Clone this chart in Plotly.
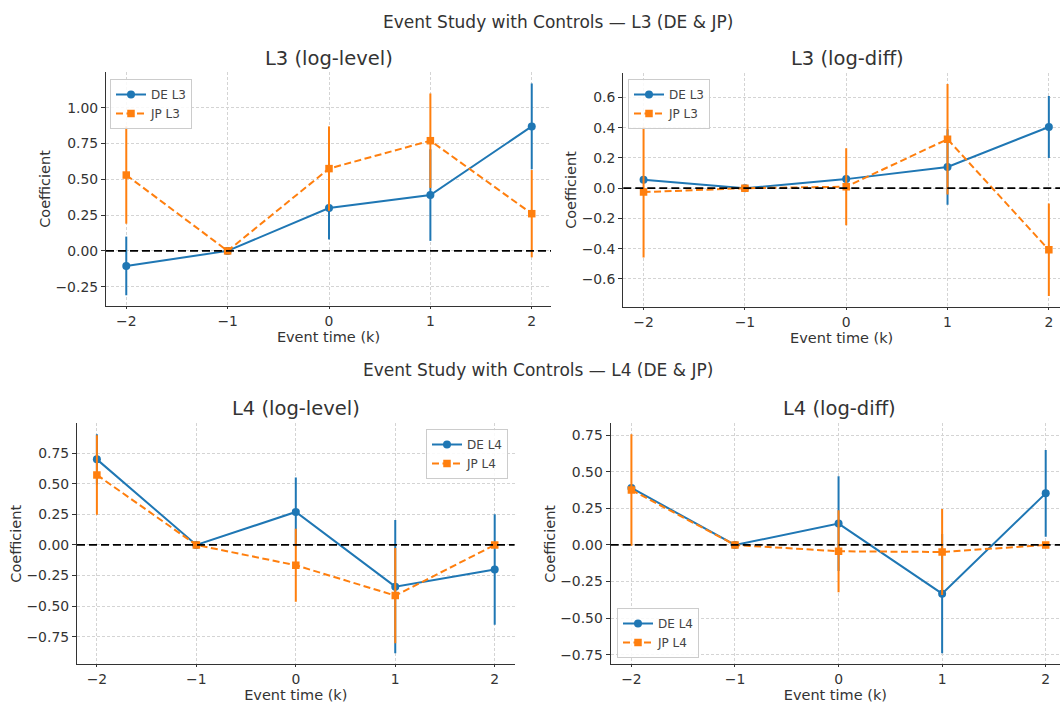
import plotly.graph_objects as go

event_time = [-2, -1, 0, 1, 2]
tick_vals_x = [-2, -1, 0, 1, 2]

# L3 log-level
de_l3_level = [-0.105, 0.0, 0.30, 0.39, 0.87]
de_l3_level_err = [0.205, 0.0, 0.22, 0.32, 0.30]
jp_l3_level = [0.53, 0.0, 0.575, 0.77, 0.26]
jp_l3_level_err = [0.34, 0.0, 0.295, 0.33, 0.305]

# L3 log-diff
de_l3_diff = [0.055, 0.0, 0.06, 0.14, 0.405]
de_l3_diff_err = [0.0, 0.0, 0.0, 0.25, 0.205]
jp_l3_diff = [-0.026, 0.0, 0.01, 0.324, -0.408]
jp_l3_diff_err = [0.433, 0.0, 0.255, 0.366, 0.306]

# L4 log-level
de_l4_level = [0.70, 0.0, 0.27, -0.341, -0.20]
de_l4_level_err = [0.205, 0.0, 0.281, 0.545, 0.452]
jp_l4_level = [0.573, 0.0, -0.166, -0.414, 0.0]
jp_l4_level_err = [0.325, 0.0, 0.298, 0.39, 0.0]

# L4 log-diff
de_l4_diff = [0.39, 0.0, 0.146, -0.333, 0.353]
de_l4_diff_err = [0.0, 0.0, 0.324, 0.408, 0.297]
jp_l4_diff = [0.376, 0.0, -0.043, -0.048, 0.0]
jp_l4_diff_err = [0.381, 0.0, 0.281, 0.294, 0.0]

BLUE = "#1f77b4"
ORANGE = "#ff7f0e"
TXT = "#333333"
FONT = "DejaVu Sans"

panels = [
    dict(title="L3 (log-level)", de=de_l3_level, de_e=de_l3_level_err, jp=jp_l3_level, jp_e=jp_l3_level_err,
         de_name="DE L3", jp_name="JP L3",
         xdom=[106/1060, 551/1060], ydom=[1-306/704, 1-72/704], xr=[-2.2, 2.19], yr=[-0.385, 1.25],
         ytv=[-0.25, 0, 0.25, 0.5, 0.75, 1.0], yfmt=".2f",
         leg=dict(x=110/1060, y=1-79/704, xanchor="left", yanchor="top"), tx=328.5, ty=59),
    dict(title="L3 (log-diff)", de=de_l3_diff, de_e=de_l3_diff_err, jp=jp_l3_diff, jp_e=jp_l3_diff_err,
         de_name="DE L3", jp_name="JP L3",
         xdom=[623.3/1060, 1.0], ydom=[1-306.7/704, 1-73.3/704], xr=[-2.2, 2.11], yr=[-0.784, 0.76],
         ytv=[-0.6, -0.4, -0.2, 0, 0.2, 0.4, 0.6], yfmt=".1f",
         leg=dict(x=628/1060, y=1-79/704, xanchor="left", yanchor="top"), tx=847, ty=59),
    dict(title="L4 (log-level)", de=de_l4_level, de_e=de_l4_level_err, jp=jp_l4_level, jp_e=jp_l4_level_err,
         de_name="DE L4", jp_name="JP L4",
         xdom=[77/1060, 514.6/1060], ydom=[1-664.3/704, 1-423.3/704], xr=[-2.2, 2.2], yr=[-0.976, 0.995],
         ytv=[-0.75, -0.5, -0.25, 0, 0.25, 0.5, 0.75], yfmt=".2f",
         leg=dict(x=508/1060, y=1-429/704, xanchor="right", yanchor="top"), tx=296, ty=408),
    dict(title="L4 (log-diff)", de=de_l4_diff, de_e=de_l4_diff_err, jp=jp_l4_diff, jp_e=jp_l4_diff_err,
         de_name="DE L4", jp_name="JP L4",
         xdom=[610.7/1060, 1.0], ydom=[1-664.3/704, 1-423.3/704], xr=[-2.2, 2.138], yr=[-0.816, 0.832],
         ytv=[-0.75, -0.5, -0.25, 0, 0.25, 0.5, 0.75], yfmt=".2f",
         leg=dict(x=617/1060, y=1-658/704, xanchor="left", yanchor="bottom"), tx=839, ty=408),
]

fig = go.Figure()
layout = {}
annotations = []
shapes = []

for i, p in enumerate(panels, start=1):
    sfx = "" if i == 1 else str(i)
    xa, ya = "x" + sfx, "y" + sfx
    lg = "legend" + sfx
    fig.add_trace(go.Scatter(
        x=event_time, y=p["de"], name=p["de_name"], xaxis=xa, yaxis=ya, legend=lg,
        mode="lines+markers", line=dict(color=BLUE, width=2),
        marker=dict(symbol="circle", size=8, color=BLUE),
        error_y=dict(type="data", array=p["de_e"], color=BLUE, thickness=2, width=0),
    ))
    fig.add_trace(go.Scatter(
        x=event_time, y=p["jp"], name=p["jp_name"], xaxis=xa, yaxis=ya, legend=lg,
        mode="lines+markers", line=dict(color=ORANGE, width=2, dash="7px,3.5px"),
        marker=dict(symbol="square", size=7.5, color=ORANGE),
        error_y=dict(type="data", array=p["jp_e"], color=ORANGE, thickness=2, width=0),
    ))
    axcommon = dict(
        showline=True, linecolor="#333333", linewidth=1.3, mirror=False,
        ticks="outside", tickcolor="#333333", tickwidth=1,
        showgrid=True, gridcolor="#d4d4d4", gridwidth=0.8, griddash="3px,2px",
        zeroline=False, tickfont=dict(family=FONT, size=13.9, color=TXT),
    )
    layout["xaxis" + sfx] = dict(
        axcommon, domain=p["xdom"], range=p["xr"], anchor=ya, tickmode="array", ticklen=2,
        tickvals=tick_vals_x, ticktext=["\u22122", "\u22121", "0", "1", "2"],
        title=dict(text="Event time (k)", font=dict(family=FONT, size=14.5, color=TXT), standoff=1),
    )
    layout["yaxis" + sfx] = dict(
        axcommon, domain=p["ydom"], range=p["yr"], anchor=xa, tickmode="array", ticklen=4,
        tickvals=p["ytv"], tickformat=p["yfmt"],
        title=dict(text="Coefficient", font=dict(family=FONT, size=14.5, color=TXT), standoff=1),
    )
    layout[lg] = dict(
        p["leg"], bgcolor="rgba(255,255,255,0.85)", bordercolor="#cccccc", borderwidth=1,
        font=dict(family=FONT, size=12, color="#444444"), tracegroupgap=0,
    )
    annotations.append(dict(
        text=p["title"], x=p["tx"]/1060, y=1-p["ty"]/704, xref="paper", yref="paper",
        xanchor="center", yanchor="middle", showarrow=False,
        font=dict(family=FONT, size=19.5, color=TXT),
    ))
    shapes.append(dict(
        type="line", xref=xa + " domain", yref=ya, x0=0, x1=1, y0=0, y1=0,
        line=dict(color="black", width=1.8, dash="8px,4px"), layer="above",
    ))

annotations.append(dict(
    text="Event Study with Controls \u2014 L3 (DE & JP)", x=558/1060, y=1-22/704,
    xref="paper", yref="paper", xanchor="center", yanchor="middle", showarrow=False,
    font=dict(family=FONT, size=17, color=TXT),
))
annotations.append(dict(
    text="Event Study with Controls \u2014 L4 (DE & JP)", x=538/1060, y=1-370/704,
    xref="paper", yref="paper", xanchor="center", yanchor="middle", showarrow=False,
    font=dict(family=FONT, size=17, color=TXT),
))

fig.update_layout(
    width=1060, height=704, margin=dict(l=0, r=0, t=0, b=0),
    paper_bgcolor="white", plot_bgcolor="white",
    font=dict(family=FONT, color=TXT),
    annotations=annotations, shapes=shapes, showlegend=True,
    **layout,
)

fig.write_html(
    "out.html",
    config={"displayModeBar": False},
    post_script="document.body.style.margin='0';document.body.style.overflow='hidden';",
)
